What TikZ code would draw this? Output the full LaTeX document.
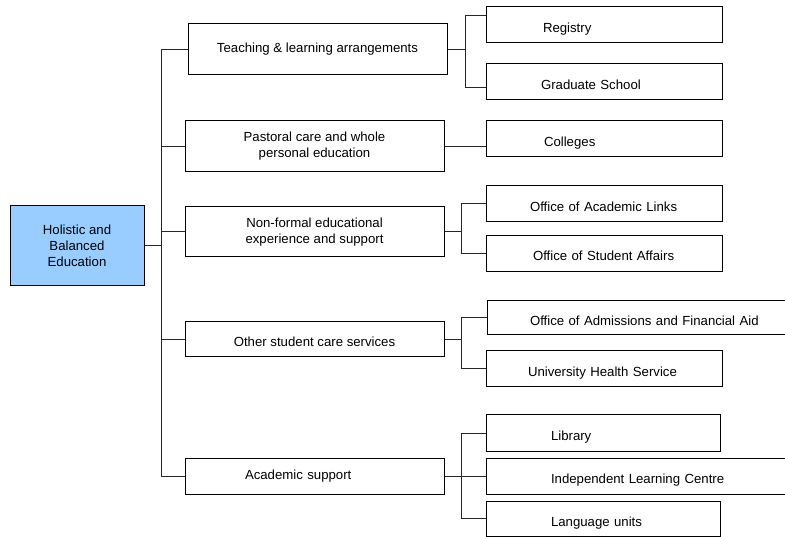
\documentclass[tikz,border=0pt]{standalone}
\usepackage{fontspec}
\setmainfont{Liberation Sans}
\usetikzlibrary{calc}
\definecolor{rootblue}{RGB}{153,204,255}
\newcommand{\chartfont}{\fontsize{13.2}{16}\selectfont}
\tikzstyle{box} = [rectangle, draw, line width=1pt, inner sep=0pt, font=\chartfont]
\tikzstyle{root} = [box, fill=rootblue, minimum width=134pt,
    minimum height=80pt, align=center]
\tikzstyle{unit} = [box, minimum width=259pt, align=center]
\tikzstyle{office} = [box, text width=236pt, align=left, minimum height=36pt,
    text height=15pt, text depth=0pt]
\tikzstyle{line} = [draw, line width=1pt, black!85]

\begin{document}
\begin{tikzpicture}[x=1pt, y=-1pt]
    \useasboundingbox (0,0) rectangle (785,537);
    % Place nodes
    \node[root] (hbe) at (77,246) {Holistic and\\Balanced\\Education};
    \coordinate (tk) at (161,0);
    \node[unit, minimum height=51pt] (teach) at (317.5,49.5) {Teaching \& learning arrangements};
    \node[unit, minimum height=51pt] (past) at (314.5,146.5) {Pastoral care and whole\\personal education};
    \node[unit, minimum height=50pt] (nonf) at (314.5,232) {Non-formal educational\\experience and support};
    \node[unit, minimum height=35pt, text height=15pt, text depth=0pt] (other) at (314.5,339.5) {Other student care services};
    \node[unit, minimum height=36pt, text width=259pt, align=left] (acad) at (314.5,476) {\hspace*{60pt}Academic support};
    \node[office] (reg) at (604,25) {\hspace*{57pt}Registry};
    \node[office] (grad) at (604,82) {\hspace*{55pt}Graduate School};
    \node[office] (coll) at (604,139) {\hspace*{58pt}Colleges};
    \node[office] (oal) at (604,204) {\hspace*{44pt}Office of Academic Links};
    \node[office] (osa) at (604,253.5) {\hspace*{47pt}Office of Student Affairs};
    \node[office, text width=303pt, minimum height=34pt] (oafa) at (638.5,318) {\hspace*{43pt}Office of Admissions and Financial Aid};
    \node[office] (uhs) at (604,369) {\hspace*{42pt}University Health Service};
    \node[office, text width=234pt] (lib) at (603,433) {\hspace*{65pt}Library};
    \node[office, text width=304pt] (ilc) at (638,476) {\hspace*{65pt}Independent Learning Centre};
    \node[office, text width=234pt, minimum height=35pt] (lang) at (603,518.5) {\hspace*{65pt}Language units};
    % Draw edges
    \path [line] (hbe.east) -- (hbe.east -| tk);
    \path [line] (teach.west -| tk) -- (acad.west -| tk);
    \foreach \n in {teach,past,nonf,other,acad}
        \path [line] (\n.west -| tk) -- (\n.west);
    \path [line] (teach.east) -- ++(18,0) coordinate (f1);
    \path [line] ([yshift=9pt]reg.west) -| (f1) |- ([yshift=-6pt]grad.west);
    \path [line] (past.east) -- (past.east -| coll.west);
    \path [line] (nonf.east) -- ++(17,0) coordinate (f3);
    \path [line] (oal.west) -| (f3) |- (osa.west);
    \path [line] (other.east) -- ++(17,0) coordinate (f4);
    \path [line] (oafa.west) -| (f4) |- (uhs.west);
    \path [line] (acad.east) -- ++(17,0) coordinate (f5);
    \path [line] (lib.west) -| (f5) |- (lang.west);
    \path [line] (f5) -- (ilc.west);
\end{tikzpicture}
\end{document}
